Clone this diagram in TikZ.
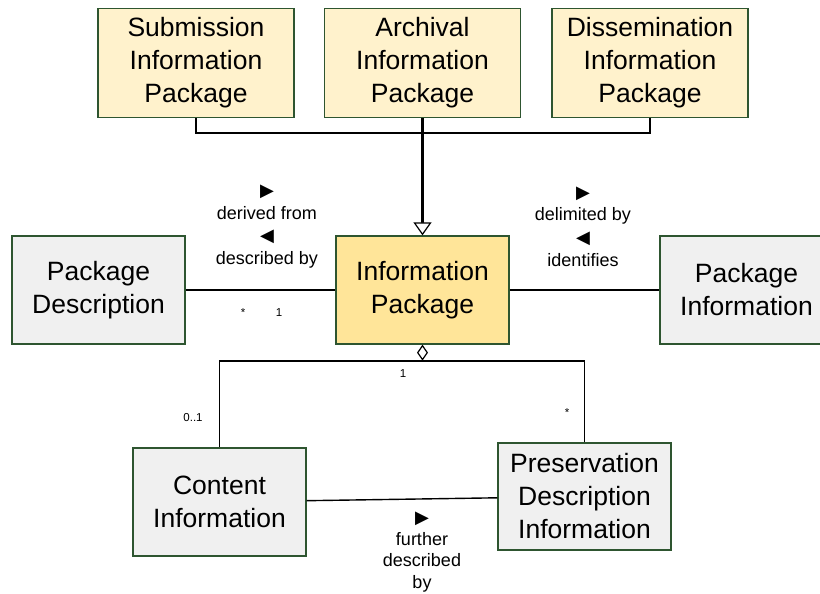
\documentclass[tikz,border=0pt]{standalone}
\usepackage{fontspec}
\setmainfont{Liberation Sans}
\newfontfamily\glyphfont{DejaVu Sans}
\usetikzlibrary{arrows.meta}

\definecolor{boxline}{HTML}{2E5530}
\definecolor{pkgfill}{HTML}{FFF2CC}
\definecolor{ipfill}{HTML}{FFE599}
\definecolor{greyfill}{HTML}{F0F0F0}

\tikzset{
  classbox/.style={draw=boxline, line width=1.3pt, inner sep=0pt, align=center,
    font=\fontsize{26.5}{33}\selectfont},
  pkgbox/.style={classbox, fill=pkgfill, minimum width=196pt, minimum height=109pt},
  corebox/.style={classbox, fill=ipfill, minimum width=173pt, minimum height=108pt},
  infobox/.style={classbox, fill=greyfill, minimum width=173pt, minimum height=108pt},
  conn/.style={line width=1.4pt, black},
  rolelabel/.style={align=center, inner sep=0pt, font=\fontsize{18}{22.7}\selectfont},
  mult/.style={inner sep=0pt, font=\fontsize{11.5}{13}\selectfont},
}
\newcommand{\fwdglyph}{{\glyphfont\fontsize{18}{18}\selectfont ▶}}
\newcommand{\backglyph}{{\glyphfont\fontsize{18}{18}\selectfont ◀}}

\begin{document}
\begin{tikzpicture}[x=1pt, y=-1pt]
  \useasboundingbox (0,0) rectangle (820,594);

  % package specialisations
  \node[pkgbox] (sip) at (196,63) {Submission\\Information\\Package};
  \node[pkgbox] (aip) at (422.5,63) {Archival\\Information\\Package};
  \node[pkgbox] (dip) at (650,63) {Dissemination\\Information\\Package};

  % core classes
  \node[corebox] (ip) at (422.5,290) {Information\\Package};
  \node[infobox] (pd) at (98.5,290) {Package\\Description};
  \node[infobox] (pi) at (746.5,290) {Package\\Information};
  \node[infobox] (ci) at (219.5,502) {Content\\Information};
  \node[infobox, minimum height=107pt] (pdi) at (584.5,496.5) {Preservation\\Description\\Information};

  % generalisation tree
  \coordinate (join) at (422.5,133);
  \draw[conn] (sip.south) |- (join);
  \draw[conn] (dip.south) |- (join);
  \draw[conn, line width=2.4pt, -{Triangle[open, length=13pt, width=18pt, line width=1.2pt, fill=white]}] (aip.south) -- (ip.north);

  % associations
  \draw[conn] (pd.east) -- (ip.west);
  \draw[conn] (ip.east) -- (pi.west);
  \draw[conn] (ci) -- (pdi);

  % aggregation
  \coordinate (agg) at (422.5,361);
  \draw[conn, {Diamond[open, length=16pt, width=11pt, line width=1.2pt, fill=white]}-] (ip.south) -- (agg) -| (ci.north);
  \draw[conn] (agg) -| (pdi.north);

  % role labels
  \node[rolelabel] (lblpd) at (267,226.5) {\fwdglyph\\derived from\\\backglyph\\described by};
  \node[rolelabel] (lblpi) at (583,226.5) {\fwdglyph\\delimited by\\\backglyph\\identifies};
  \node[rolelabel, font=\fontsize{18}{21.5}\selectfont] (lblfd) at (422,552) {\fwdglyph\\further\\described\\by};

  % multiplicities
  \node[mult, anchor=base] (m1) at (243,316) {*};
  \node[mult, anchor=base] (m2) at (279,316) {1};
  \node[mult, anchor=base] (m3) at (403,377) {1};
  \node[mult, anchor=base] (m4) at (193,421) {0..1};
  \node[mult, anchor=base] (m5) at (567,416) {*};
\end{tikzpicture}
\end{document}
